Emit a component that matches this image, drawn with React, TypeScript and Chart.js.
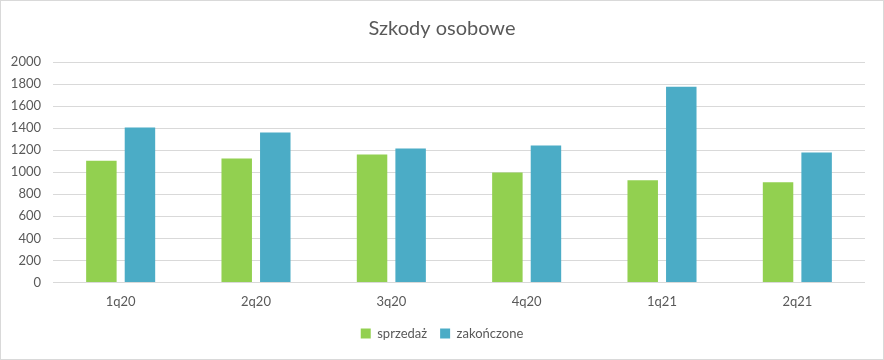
import React, { useEffect, useRef } from "react";
import { Chart, registerables } from "chart.js";

Chart.register(...registerables);

const categories = ["1q20", "2q20", "3q20", "4q20", "1q21", "2q21"];
const sprzedaz = [1105, 1125, 1160, 998, 926, 908];
const zakonczone = [1405, 1360, 1215, 1242, 1776, 1179];
const seriesNames = ["sprzedaż", "zakończone"];
const titleText = "Szkody osobowe";

export default function App() {
  const ref = useRef<HTMLCanvasElement>(null);
  useEffect(() => {
    document.body.style.margin = "0";
    const ctx = ref.current!;
    const font = "Lato, 'Open Sans', sans-serif";
    const chart = new Chart(ctx, {
      type: "bar",
      data: {
        labels: categories,
        datasets: [
          {
            label: seriesNames[0],
            data: sprzedaz,
            backgroundColor: "#92d050",
            categoryPercentage: 0.57,
            barPercentage: 0.79,
          },
          {
            label: seriesNames[1],
            data: zakonczone,
            backgroundColor: "#4bacc6",
            categoryPercentage: 0.57,
            barPercentage: 0.79,
          },
        ],
      },
      options: {
        animation: false,
        responsive: false,
        maintainAspectRatio: false,
        layout: { padding: { left: 0, right: 0, top: 10, bottom: 9 } },
        plugins: {
          title: {
            display: true,
            text: titleText,
            color: "#595959",
            font: { family: font, size: 20, weight: "normal" },
            padding: { top: 6, bottom: 21 },
          },
          legend: {
            position: "bottom",
            labels: {
              color: "#595959",
              font: { family: font, size: 13 },
              boxWidth: 10,
              boxHeight: 10,
              padding: 13,
            },
          },
          tooltip: { enabled: false },
        },
        scales: {
          x: {
            grid: { display: false },
            border: { display: false },
            ticks: { color: "#595959", font: { family: font, size: 13 }, padding: 4 },
          },
          y: {
            min: 0,
            max: 2000,
            afterFit: (s: any) => {
              s.width = 52;
            },
            ticks: {
              stepSize: 200,
              color: "#595959",
              font: { family: font, size: 13 },
              padding: 12,
              callback: (v: any) => String(v),
            },
            grid: { color: "#d9d9d9", drawTicks: false },
            border: { display: false },
          },
          yRight: {
            position: "right",
            display: true,
            min: 0,
            max: 2000,
            afterFit: (s: any) => {
              s.width = 18;
            },
            ticks: { display: false },
            grid: { display: false, drawTicks: false },
            border: { display: false },
          },
        },
      },
    });
    return () => chart.destroy();
  }, []);
  return (
    <div
      style={{
        position: "absolute",
        left: 0,
        top: 0,
        width: 884,
        height: 360,
        boxSizing: "border-box",
        border: "1px solid #d9d9d9",
        background: "#fff",
      }}
    >
      <canvas ref={ref} width={882} height={358} style={{ display: "block" }} />
    </div>
  );
}
